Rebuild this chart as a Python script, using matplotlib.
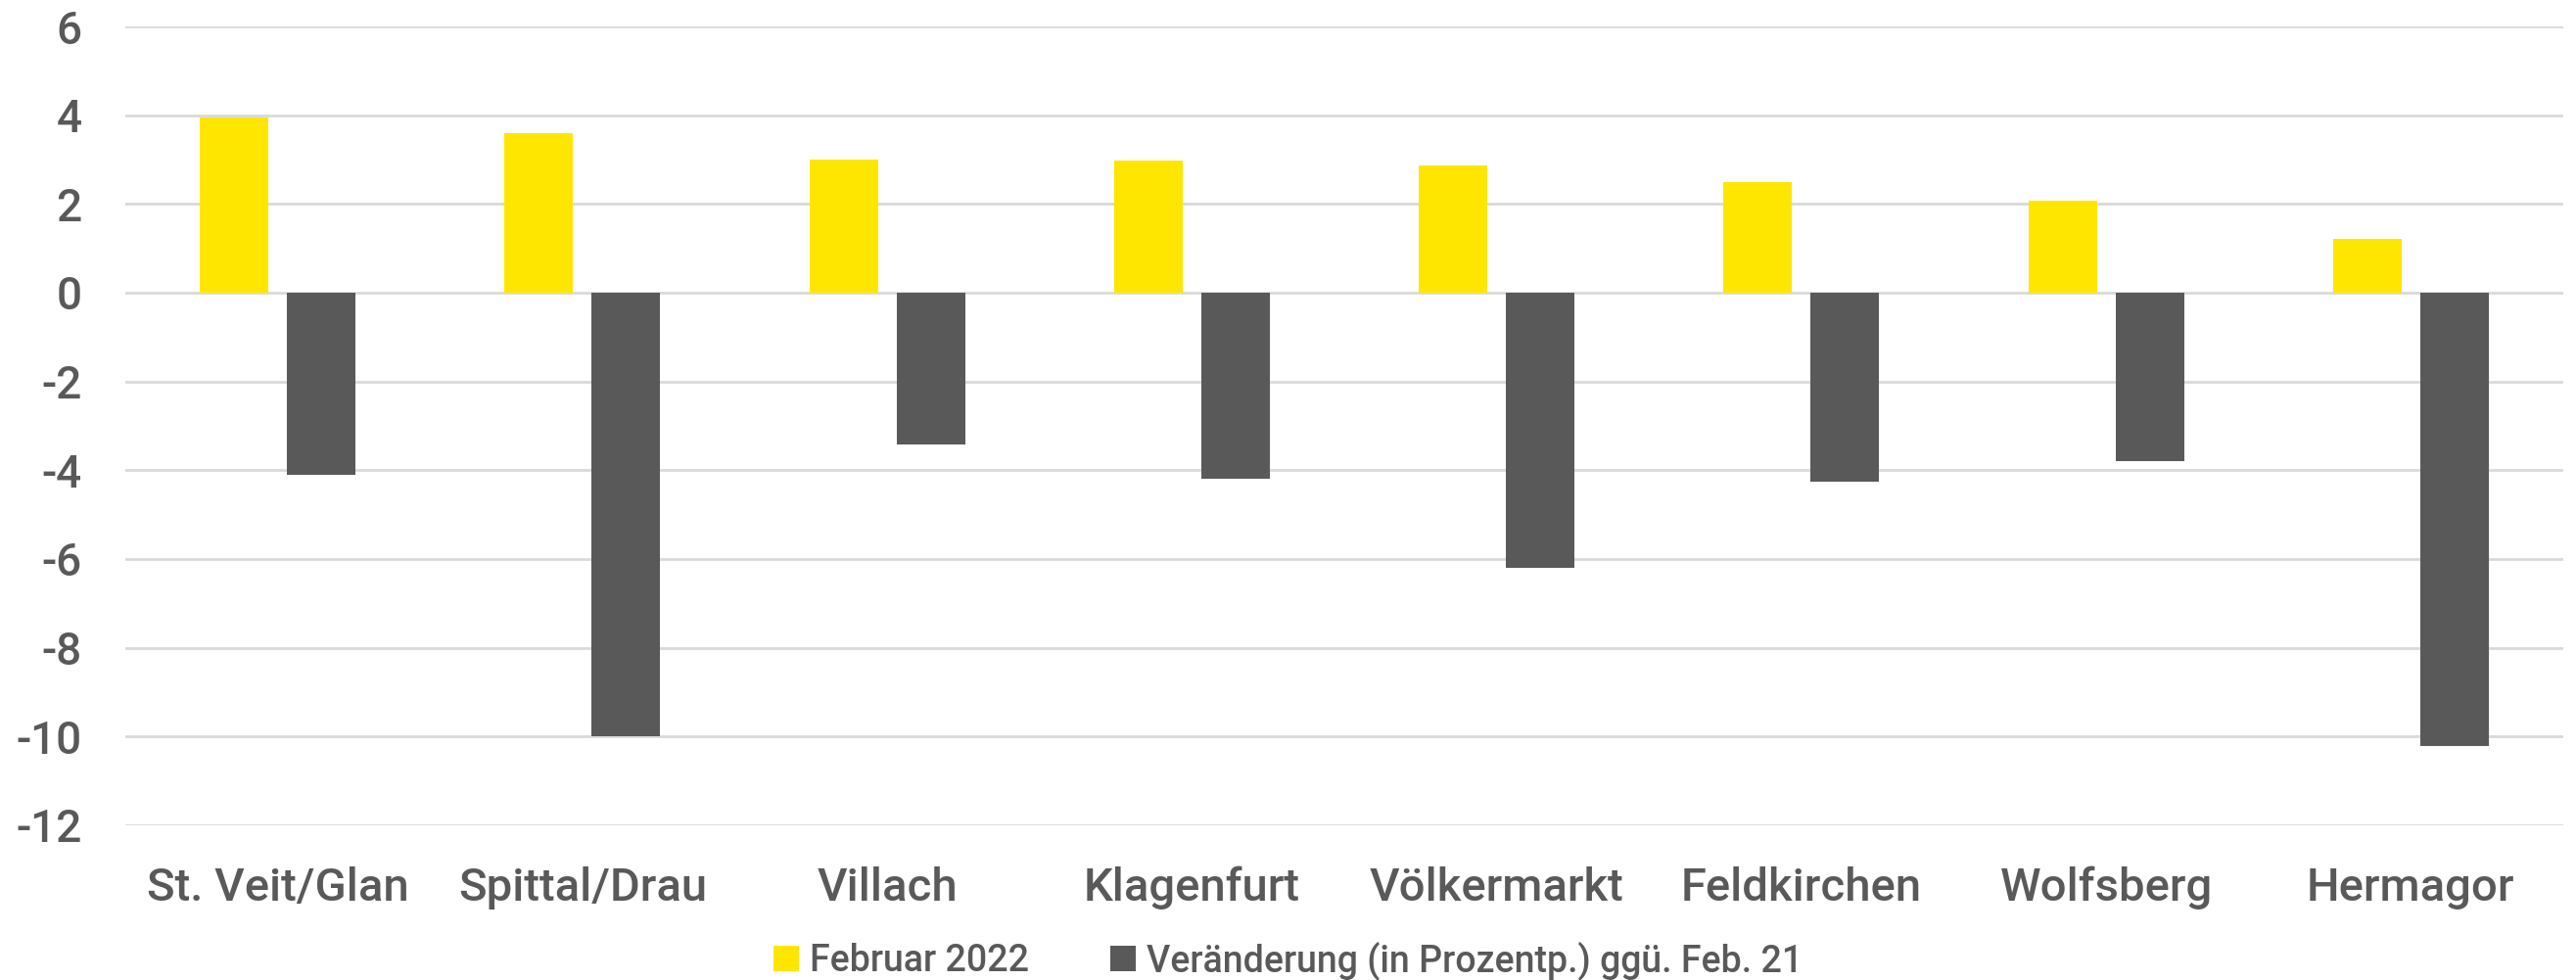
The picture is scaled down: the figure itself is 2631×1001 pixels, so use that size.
import numpy as np
import matplotlib.pyplot as plt

plt.rcParams['font.family'] = ['Roboto', 'Liberation Sans', 'DejaVu Sans']
plt.rcParams['font.weight'] = 'medium'

# regions and values
regions = ['St. Veit/Glan', 'Spittal/Drau', 'Villach', 'Klagenfurt',
           'Völkermarkt', 'Feldkirchen', 'Wolfsberg', 'Hermagor']
feb_2022 = [3.94, 3.59, 3.01, 2.97, 2.86, 2.49, 2.08, 1.22]
change_vs_feb21 = [-4.11, -9.99, -3.42, -4.19, -6.20, -4.27, -3.79, -10.21]
yticks = [6, 4, 2, 0, -2, -4, -6, -8, -10, -12]

text_col = '#595959'
fig = plt.figure(figsize=(26.31, 10.01), dpi=100)
ax = fig.add_axes([0.0487, 0.158, 0.9463, 0.815])

x = np.arange(len(regions))
w = 0.225
ax.bar(x - 0.143, feb_2022, w, color='#ffe600', label='Februar 2022', zorder=3)
ax.bar(x + 0.143, change_vs_feb21, w, color='#595959',
       label='Veränderung (in Prozentp.) ggü. Feb. 21', zorder=3)

ax.set_xlim(-0.5, len(regions) - 0.5)
ax.set_ylim(-12, 6)
ax.set_yticks(yticks)
ax.set_yticklabels([str(t) for t in yticks])
ax.set_xticks(x)
ax.set_xticklabels(regions)
ax.grid(axis='y', color='#d9d9d9', linewidth=2, zorder=0)
for s in ax.spines.values():
    s.set_visible(False)
ax.tick_params(axis='y', length=0, pad=32, labelsize=33, labelcolor=text_col)
ax.tick_params(axis='x', length=0, pad=30, labelsize=34, labelcolor=text_col)

leg = fig.legend(loc='lower center', bbox_to_anchor=(0.5, -0.034), ncol=2, frameon=False,
                 fontsize=27, handlelength=0.7, handleheight=0.7, handletextpad=0.3,
                 columnspacing=2.2)
for t in leg.get_texts():
    t.set_color(text_col)

fig.savefig('out.png', dpi=100)
